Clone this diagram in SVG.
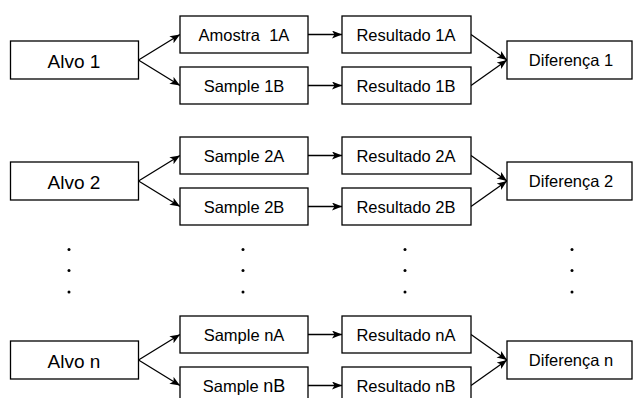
<svg xmlns="http://www.w3.org/2000/svg" width="633" height="398" viewBox="0 0 633 398">
  <style>
    .box { fill: #ffffff; stroke: #000000; stroke-width: 1.3; }
    .edge { fill: none; stroke: #000000; stroke-width: 1.3; marker-end: url(#arrow); }
    text { font-family: "Liberation Sans", Arial, Helvetica, sans-serif; fill: #000000; text-anchor: middle; white-space: pre; }
    .big { font-size: 19px; }
    .small { font-size: 16.5px; }
    .dot { fill: #000000; }
  </style>
  <defs>
    <marker id="arrow" markerUnits="userSpaceOnUse" markerWidth="12" markerHeight="10" refX="10" refY="4" orient="auto">
      <path d="M0,0 L10,4 L0,8 L2.5,4 Z" fill="#000000"/>
    </marker>
  </defs>
  <rect width="633" height="398" fill="#ffffff"/>

  <!-- connectors -->
  <g id="connectors">
    <path class="edge" d="M138.5,60 L180,34.5"/>
    <path class="edge" d="M138.5,60 L180,85.5"/>
    <path class="edge" d="M308,34.5 L342,34.5"/>
    <path class="edge" d="M308,85.5 L342,85.5"/>
    <path class="edge" d="M471,34.5 L507,60"/>
    <path class="edge" d="M471,85.5 L507,60"/>

    <path class="edge" d="M138.5,181 L180,155.5"/>
    <path class="edge" d="M138.5,181 L180,206.5"/>
    <path class="edge" d="M308,155.5 L342,155.5"/>
    <path class="edge" d="M308,206.5 L342,206.5"/>
    <path class="edge" d="M471,155.5 L507,181"/>
    <path class="edge" d="M471,206.5 L507,181"/>

    <path class="edge" d="M138.5,360 L180,334.5"/>
    <path class="edge" d="M138.5,360 L180,385.5"/>
    <path class="edge" d="M308,334.5 L342,334.5"/>
    <path class="edge" d="M308,385.5 L342,385.5"/>
    <path class="edge" d="M471,334.5 L507,360"/>
    <path class="edge" d="M471,385.5 L507,360"/>
  </g>

  <!-- row 1 -->
  <g id="alvo1"><rect class="box" x="10.5" y="41" width="128" height="38"/><text class="big" x="74" y="67.5">Alvo 1</text></g>
  <g id="amostra1A"><rect class="box" x="180" y="16" width="128" height="37"/><text class="small" x="244" y="40.5">Amostra  1A</text></g>
  <g id="sample1B"><rect class="box" x="180" y="67" width="128" height="37"/><text class="small" x="244" y="91.5">Sample 1B</text></g>
  <g id="resultado1A"><rect class="box" x="342" y="16" width="129" height="37"/><text class="small" x="406" y="40.5">Resultado 1A</text></g>
  <g id="resultado1B"><rect class="box" x="342" y="67" width="129" height="37"/><text class="small" x="406" y="91.5">Resultado 1B</text></g>
  <g id="diferenca1"><rect class="box" x="507" y="41" width="125" height="38"/><text class="small" x="571" y="66">Diferença 1</text></g>

  <!-- row 2 -->
  <g id="alvo2"><rect class="box" x="10.5" y="162" width="128" height="38"/><text class="big" x="74" y="188.5">Alvo 2</text></g>
  <g id="sample2A"><rect class="box" x="180" y="137" width="128" height="37"/><text class="small" x="244" y="161.5">Sample 2A</text></g>
  <g id="sample2B"><rect class="box" x="180" y="188" width="128" height="37"/><text class="small" x="244" y="212.5">Sample 2B</text></g>
  <g id="resultado2A"><rect class="box" x="342" y="137" width="129" height="37"/><text class="small" x="406" y="161.5">Resultado 2A</text></g>
  <g id="resultado2B"><rect class="box" x="342" y="188" width="129" height="37"/><text class="small" x="406" y="212.5">Resultado 2B</text></g>
  <g id="diferenca2"><rect class="box" x="507" y="162" width="125" height="38"/><text class="small" x="571" y="187">Diferença 2</text></g>

  <!-- ellipsis dots -->
  <g id="ellipsis">
    <circle class="dot" cx="69" cy="249.5" r="1.5"/><circle class="dot" cx="69" cy="270.5" r="1.5"/><circle class="dot" cx="69" cy="292" r="1.5"/>
    <circle class="dot" cx="243" cy="249.5" r="1.5"/><circle class="dot" cx="243" cy="270.5" r="1.5"/><circle class="dot" cx="243" cy="292" r="1.5"/>
    <circle class="dot" cx="405" cy="249.5" r="1.5"/><circle class="dot" cx="405" cy="270.5" r="1.5"/><circle class="dot" cx="405" cy="292" r="1.5"/>
    <circle class="dot" cx="572" cy="249.5" r="1.5"/><circle class="dot" cx="572" cy="270.5" r="1.5"/><circle class="dot" cx="572" cy="292" r="1.5"/>
  </g>

  <!-- row n -->
  <g id="alvoN"><rect class="box" x="10.5" y="341" width="128" height="38"/><text class="big" x="74" y="367.5">Alvo n</text></g>
  <g id="sampleNA"><rect class="box" x="180" y="316" width="128" height="37"/><text class="small" x="244" y="340.5">Sample nA</text></g>
  <g id="sampleNB"><rect class="box" x="180" y="367" width="128" height="37"/><text class="small" x="244" y="391.5">Sample <tspan style="font-size:18px">nB</tspan></text></g>
  <g id="resultadoNA"><rect class="box" x="342" y="316" width="129" height="37"/><text class="small" x="406" y="340.5">Resultado nA</text></g>
  <g id="resultadoNB"><rect class="box" x="342" y="367" width="129" height="37"/><text class="small" x="406" y="391.5">Resultado nB</text></g>
  <g id="diferencaN"><rect class="box" x="507" y="341" width="125" height="38"/><text class="small" x="571" y="366">Diferença n</text></g>
</svg>
